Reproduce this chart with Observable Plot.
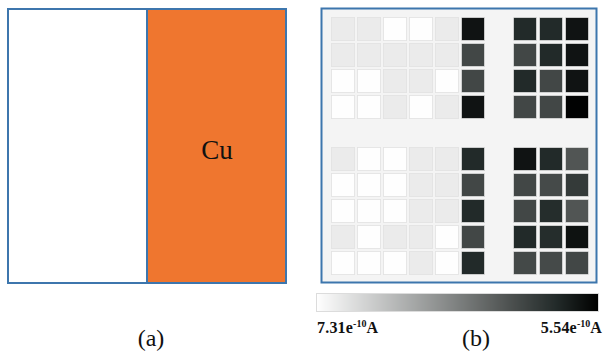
<!DOCTYPE html>
<html>
<head>
<meta charset="utf-8">
<script src="https://cdn.jsdelivr.net/npm/d3@7"></script>
<script src="https://cdn.jsdelivr.net/npm/@observablehq/plot@0.6"></script>
<style>
  body { margin: 0; background: #fff; }
  #wrap { position: relative; width: 604px; height: 354px; overflow: hidden; font-family: "Liberation Serif", "DejaVu Serif", serif; }
  .part { position: absolute; }
  .cap { position: absolute; font-size: 24px; line-height: 24px; text-align: center; width: 60px; color: #111; }
  .lab { position: absolute; font-size: 16px; font-weight: bold; line-height: 16px; color: #111; white-space: nowrap; letter-spacing: 0.2px; }
  .lab sup { font-size: 10px; vertical-align: 6px; line-height: 0; letter-spacing: 0; }
</style>
</head>
<body>
<div id="wrap"></div>
<script>
// ---- Panel (a) ----
const regions = ["", "Cu"];
const regionFill = ["#ffffff", "#ef762f"];

// ---- Panel (b): current map (units of 1e-10 A) ----
const columns = [0, 1, 2, 3, 4, 5, 6, 7, 8, 9];
const rowIds = [0, 1, 2, 3, 5, 6, 7, 8, 9];
const row0 = [7.17, 7.17, 7.30, 7.30, 7.17, 5.66, null, 5.80, 5.80, 5.66];
const row1 = [7.17, 7.17, 7.17, 7.17, 7.17, 6.02, null, 6.02, 5.80, 5.66];
const row2 = [7.30, 7.30, 7.17, 7.17, 7.30, 6.02, null, 5.80, 6.02, 5.66];
const row3 = [7.30, 7.30, 7.17, 7.30, 7.17, 5.66, null, 6.02, 6.02, 5.55];
const row5 = [7.17, 7.30, 7.30, 7.17, 7.17, 5.80, null, 5.66, 5.80, 6.12];
const row6 = [7.30, 7.30, 7.30, 7.17, 7.17, 6.02, null, 6.02, 6.04, 5.92];
const row7 = [7.30, 7.30, 7.30, 7.17, 7.17, 5.80, null, 6.02, 5.82, 6.12];
const row8 = [7.17, 7.30, 7.17, 7.17, 7.30, 6.02, null, 5.80, 5.82, 5.65];
const row9 = [7.30, 7.30, 7.30, 7.17, 7.30, 5.80, null, 6.03, 6.04, 6.02];
const rowValues = [row0, row1, row2, row3, row5, row6, row7, row8, row9];

// colour bar ends
const barMax = 7.31;
const barMin = 5.54;
const barLabels = ["7.31e<sup>-10</sup>A", "5.54e<sup>-10</sup>A"];

const cells = [];
rowValues.forEach((vals, i) => vals.forEach((v, j) => {
  if (v != null) cells.push({row: rowIds[i], col: columns[j], value: v});
}));

const colorOpts = {
  type: "linear",
  domain: [barMin, 5.80, 6.10, barMax],
  range: ["#000000", "#222a29", "#4e5251", "#ffffff"],
  interpolate: "rgb"
};

const frameBlue = "#3d76ad";
const wrap = document.getElementById("wrap");

function place(el, left, top) {
  el.classList.add("part");
  el.style.left = left + "px";
  el.style.top = top + "px";
  wrap.appendChild(el);
}

// Panel (a)
const regionData = regions.map((r, i) => ({name: r, fill: regionFill[i]}));
const plotA = Plot.plot({
  width: 300, height: 300,
  marginLeft: 8, marginRight: 14, marginTop: 9, marginBottom: 17,
  x: {type: "band", domain: regions, padding: 0, axis: null},
  marks: [
    Plot.cell(regionData, {x: "name", fill: "fill", stroke: frameBlue, strokeWidth: 2}),
    Plot.text(regionData.filter(d => d.name === "Cu"), {
      x: "name", text: "name", frameAnchor: "middle", dy: 4,
      fontSize: 27, fill: "#111", fontFamily: "Liberation Serif"
    })
  ]
});
place(plotA, 0, 0);

// Panel (b)
const plotB = Plot.plot({
  width: 304, height: 290,
  marginLeft: 27, marginRight: 11, marginTop: 13, marginBottom: 11,
  x: {type: "band", domain: columns, padding: 0, axis: null},
  y: {type: "band", domain: columns, padding: 0, axis: null},
  color: colorOpts,
  marks: [
    Plot.frame({fill: "#f4f4f4", stroke: frameBlue, strokeWidth: 2,
      insetLeft: -6, insetRight: -3, insetTop: -5, insetBottom: -3}),
    Plot.cell(cells, {x: "col", y: "row", fill: "value", inset: 1.4,
      stroke: "#e2e2e2", strokeWidth: 0.8})
  ]
});
place(plotB, 300, 0);

// Colour bar
const plotBar = Plot.plot({
  width: 304, height: 30,
  marginLeft: 16, marginRight: 6, marginTop: 8, marginBottom: 4,
  x: {domain: [barMax, barMin], axis: null},
  y: {domain: [0, 1], axis: null},
  color: colorOpts,
  marks: [
    Plot.raster({fill: (x, y) => x, x1: barMax, x2: barMin, y1: 0, y2: 1,
      width: 282, height: 1, imageRendering: "auto"}),
    Plot.frame({stroke: "#dcdcdc", strokeWidth: 1})
  ]
});
place(plotBar, 300, 285);

// Captions and labels
function addDiv(cls, html, left, top) {
  const d = document.createElement("div");
  d.className = cls;
  d.innerHTML = html;
  d.style.left = left + "px";
  d.style.top = top + "px";
  wrap.appendChild(d);
  return d;
}
addDiv("cap", "(a)", 121, 326);
addDiv("cap", "(b)", 446, 326);
addDiv("lab", barLabels[0], 317, 320);
const right = addDiv("lab", barLabels[1], 0, 320);
right.style.left = "auto";
right.style.right = (604 - 602) + "px";
</script>
</body>
</html>
